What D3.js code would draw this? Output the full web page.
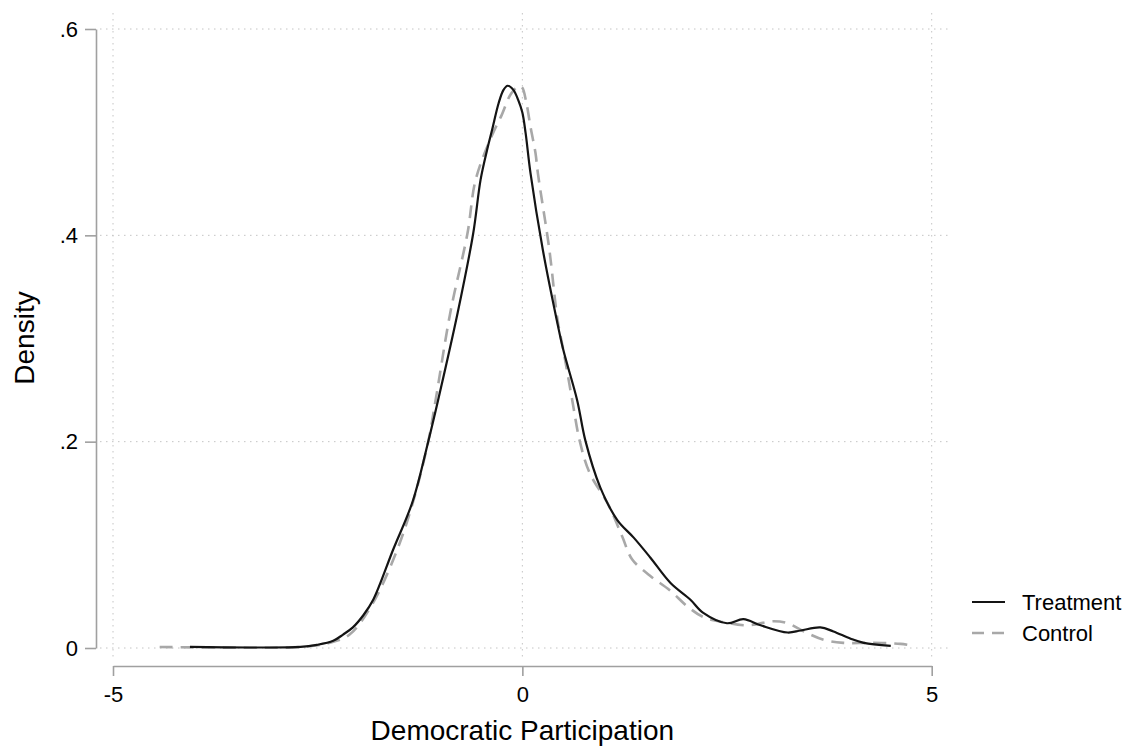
<!DOCTYPE html>
<html>
<head>
<meta charset="utf-8">
<script src="https://cdn.jsdelivr.net/npm/d3@7"></script>
<style>
  body { margin: 0; background: #fff; }
  svg { font-family: "Liberation Sans", Arial, Helvetica, sans-serif; }
</style>
</head>
<body>
<div id="chart"></div>
<script>
// kernel density: treatment vs control

const xTicks = [-5, 0, 5];
const yTicks = [0, 0.2, 0.4, 0.6];
const yTickLabels = ["0", ".2", ".4", ".6"];

const seriesNames = ["Treatment", "Control"];

const treatX = [-4.06, -3.33, -2.71, -2.51, -2.31, -2.19, -2.07, -1.94, -1.82, -1.58, -1.34, -1.15, -1.03, -0.79,
  -0.6, -0.51, -0.43, -0.37, -0.29, -0.23, -0.18, -0.11, -0.05, 0.0, 0.04, 0.1, 0.25, 0.42, 0.5, 0.67, 0.77,
  0.95, 1.16, 1.36, 1.56, 1.81, 2.05, 2.21, 2.5, 2.7, 2.91, 3.24, 3.4, 3.64, 3.8, 4.01, 4.17, 4.5];
const treatY = [0.001, 0.0005, 0.001, 0.003, 0.007, 0.013, 0.02, 0.032, 0.047, 0.095, 0.142, 0.2, 0.24, 0.325,
  0.402, 0.454, 0.483, 0.502, 0.528, 0.541, 0.545, 0.541, 0.531, 0.519, 0.499, 0.46, 0.386, 0.318, 0.289, 0.24, 0.201,
  0.156, 0.124, 0.107, 0.088, 0.063, 0.047, 0.034, 0.024, 0.028, 0.022, 0.015, 0.017, 0.02, 0.016, 0.009, 0.005, 0.002];

const ctrlX = [-4.43, -3.33, -2.71, -2.35, -2.11, -1.83, -1.53, -1.33, -1.15, -1.06, -0.88, -0.67, -0.57,
  -0.37, -0.25, -0.14, -0.04, 0.0, 0.05, 0.1, 0.16, 0.19, 0.33, 0.43, 0.5, 0.61, 0.7, 0.82, 1.05, 1.22, 1.34,
  1.56, 1.8, 2.02, 2.21, 2.46, 2.75, 3.07, 3.24, 3.44, 3.68, 3.92, 4.25, 4.62, 4.78];
const ctrlY = [0.001, 0.0003, 0.001, 0.005, 0.013, 0.043, 0.095, 0.143, 0.2, 0.24, 0.325, 0.402, 0.454,
  0.497, 0.517, 0.537, 0.545, 0.543, 0.528, 0.505, 0.48, 0.46, 0.386, 0.318, 0.289, 0.24, 0.201, 0.17, 0.139, 0.108, 0.086,
  0.07, 0.056, 0.04, 0.03, 0.025, 0.022, 0.026, 0.024, 0.016, 0.008, 0.005, 0.005, 0.004, 0.002];

const width = 1141;
const height = 748;

const x = d3.scaleLinear().domain([-5, 5]).range([113, 931.7]);
const y = d3.scaleLinear().domain([0, 0.6]).range([648, 29]);

const svg = d3.select("#chart")
  .append("svg")
  .attr("width", width)
  .attr("height", height);

// dotted grid
const grid = svg.append("g")
  .attr("stroke", "#c4c4c4")
  .attr("stroke-width", 1)
  .attr("stroke-dasharray", "1.5,4.5");

grid.selectAll("line.h")
  .data(yTicks)
  .join("line")
  .attr("class", "h")
  .attr("x1", 100)
  .attr("x2", 948)
  .attr("y1", (d) => y(d))
  .attr("y2", (d) => y(d));

grid.selectAll("line.v")
  .data(xTicks)
  .join("line")
  .attr("class", "v")
  .attr("x1", (d) => x(d))
  .attr("x2", (d) => x(d))
  .attr("y1", 13)
  .attr("y2", 660);

// axes
const yAxis = svg.append("g")
  .attr("transform", "translate(96,0)")
  .call(d3.axisLeft(y)
    .tickValues(yTicks)
    .tickFormat((d, i) => yTickLabels[i])
    .tickSize(11)
    .tickSizeOuter(0)
    .tickPadding(7));

const xAxis = svg.append("g")
  .attr("transform", "translate(0,666)")
  .call(d3.axisBottom(x)
    .tickValues(xTicks)
    .tickFormat((d) => String(d))
    .tickSize(10)
    .tickSizeOuter(0)
    .tickPadding(10));

[yAxis, xAxis].forEach((g) => {
  g.select(".domain").attr("stroke", "#a0a0a0").attr("stroke-width", 1.6);
  g.selectAll(".tick line").attr("stroke", "#a0a0a0").attr("stroke-width", 1.6);
  g.selectAll(".tick text")
    .attr("fill", "#000")
    .style("font-size", "22px")
    .style("font-family", "Liberation Sans, Arial, sans-serif");
});

// axis titles
svg.append("text")
  .attr("x", x(0))
  .attr("y", 740)
  .attr("text-anchor", "middle")
  .style("font-size", "28px")
  .text("Democratic Participation");

svg.append("text")
  .attr("transform", "translate(34,338) rotate(-90)")
  .attr("text-anchor", "middle")
  .style("font-size", "28px")
  .text("Density");

// curves
const line = d3.line()
  .x((d) => x(d[0]))
  .y((d) => y(d[1]))
  .curve(d3.curveCatmullRom.alpha(0.5));

const treat = d3.zip(treatX, treatY);
const ctrl = d3.zip(ctrlX, ctrlY);

svg.append("path")
  .datum(ctrl)
  .attr("fill", "none")
  .attr("stroke", "#a8a8a8")
  .attr("stroke-width", 2.6)
  .attr("stroke-dasharray", "13,8")
  .attr("d", line);

svg.append("path")
  .datum(treat)
  .attr("fill", "none")
  .attr("stroke", "#141414")
  .attr("stroke-width", 2.2)
  .attr("d", line);

// legend
const legend = svg.append("g").attr("transform", "translate(972,602)");
const styles = [
  { stroke: "#141414", width: 2.2, dash: null },
  { stroke: "#a8a8a8", width: 2.6, dash: "12,8" }
];

legend.selectAll("g")
  .data(seriesNames)
  .join("g")
  .attr("transform", (d, i) => `translate(0,${i * 31})`)
  .each(function (d, i) {
    const g = d3.select(this);
    g.append("line")
      .attr("x1", 0)
      .attr("x2", 33)
      .attr("stroke", styles[i].stroke)
      .attr("stroke-width", styles[i].width)
      .attr("stroke-dasharray", styles[i].dash);
    g.append("text")
      .attr("x", 50)
      .attr("dy", "0.35em")
      .style("font-size", "22px")
      .text(d);
  });
</script>
</body>
</html>
